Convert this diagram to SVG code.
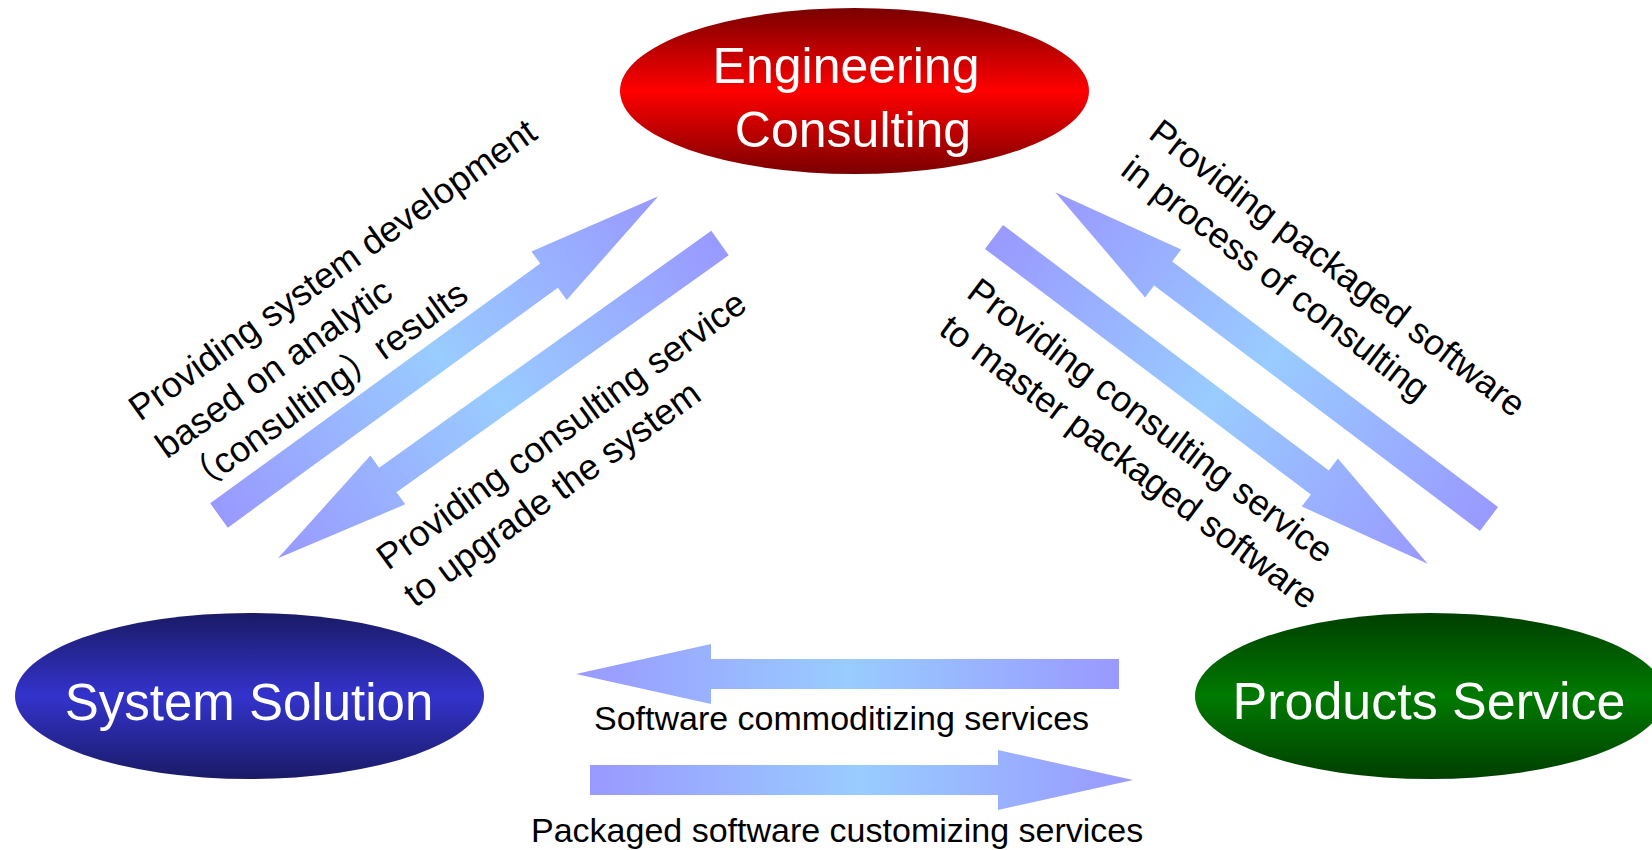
<svg xmlns="http://www.w3.org/2000/svg" width="1652" height="850" viewBox="0 0 1652 850">
  <defs>
    <linearGradient id="gRed" x1="0" y1="0" x2="0" y2="1">
      <stop offset="0" stop-color="#7a0000"/>
      <stop offset="0.5" stop-color="#ff0000"/>
      <stop offset="1" stop-color="#7a0000"/>
    </linearGradient>
    <linearGradient id="gBlue" x1="0" y1="0" x2="0" y2="1">
      <stop offset="0" stop-color="#1a1a66"/>
      <stop offset="0.5" stop-color="#3333cc"/>
      <stop offset="1" stop-color="#1a1a66"/>
    </linearGradient>
    <linearGradient id="gGreen" x1="0" y1="0" x2="0" y2="1">
      <stop offset="0" stop-color="#003f00"/>
      <stop offset="0.5" stop-color="#007a00"/>
      <stop offset="1" stop-color="#003f00"/>
    </linearGradient>
    <linearGradient id="gArrow" x1="0" y1="0" x2="1" y2="0">
      <stop offset="0" stop-color="#9999ff"/>
      <stop offset="0.5" stop-color="#99ccff"/>
      <stop offset="1" stop-color="#9999ff"/>
    </linearGradient>
    <path id="arrowShape" d="M0,-15 L408,-15 L408,-30 L543,0 L408,30 L408,15 L0,15 Z"/>
  </defs>
  <style>
    .node-text { font-family: "Liberation Sans", Arial, sans-serif; font-size: 50px; fill: #ffffff; text-anchor: middle; }
    .label { font-family: "Liberation Sans", Arial, "Noto Sans CJK JP", sans-serif; fill: #000000; }
    .diag { font-size: 36px; }
    .horiz { font-size: 34px; }
    .arrow { fill: url(#gArrow); }
  </style>
  <rect width="1652" height="850" fill="#ffffff"/>

  <g id="connectors">
    <g id="arrow-ss-ec" transform="translate(219,515.5) rotate(-36)"><use href="#arrowShape" class="arrow"/></g>
    <g id="arrow-ec-ss" transform="translate(720,243) rotate(144.5)"><use href="#arrowShape" class="arrow"/></g>
    <g id="arrow-ps-ec" transform="translate(1489,519) rotate(-143)"><use href="#arrowShape" class="arrow"/></g>
    <g id="arrow-ec-ps" transform="translate(994,237) rotate(37)"><use href="#arrowShape" class="arrow"/></g>
    <g id="arrow-ps-ss" transform="translate(1119,674) rotate(180)"><use href="#arrowShape" class="arrow"/></g>
    <g id="arrow-ss-ps" transform="translate(590,780)"><use href="#arrowShape" class="arrow"/></g>

    <text class="label diag" transform="translate(140,422) rotate(-35.5)">
      <tspan x="0" y="0">Providing system development</tspan>
      <tspan x="0" y="46">based on analytic</tspan>
      <tspan x="0" y="92">（consulting）results</tspan>
    </text>
    <text class="label diag" transform="translate(388,571) rotate(-36)">
      <tspan x="0" y="0">Providing consulting service</tspan>
      <tspan x="0" y="46">to upgrade the system</tspan>
    </text>
    <text class="label diag" transform="translate(1147,137) rotate(37.5)">
      <tspan x="0" y="0">Providing packaged software</tspan>
      <tspan x="0" y="46">in process of consulting</tspan>
    </text>
    <text class="label diag" transform="translate(965,296) rotate(37)">
      <tspan x="0" y="0">Providing consulting service</tspan>
      <tspan x="0" y="46">to master packaged software</tspan>
    </text>
    <text class="label horiz" x="594" y="730">Software commoditizing services</text>
    <text class="label horiz" x="531" y="842">Packaged software customizing services</text>
  </g>

  <g id="engineering-consulting">
    <ellipse cx="854.5" cy="91" rx="234.5" ry="83" fill="url(#gRed)"/>
    <text class="node-text" x="846" y="83">Engineering</text>
    <text class="node-text" x="853" y="147">Consulting</text>
  </g>
  <g id="system-solution">
    <ellipse cx="249.5" cy="696" rx="234.5" ry="83" fill="url(#gBlue)"/>
    <text class="node-text" x="249" y="720" style="font-size:51px">System Solution</text>
  </g>
  <g id="products-service">
    <ellipse cx="1430" cy="696" rx="235" ry="83" fill="url(#gGreen)"/>
    <text class="node-text" x="1429" y="719" style="font-size:52px">Products Service</text>
  </g>
</svg>
